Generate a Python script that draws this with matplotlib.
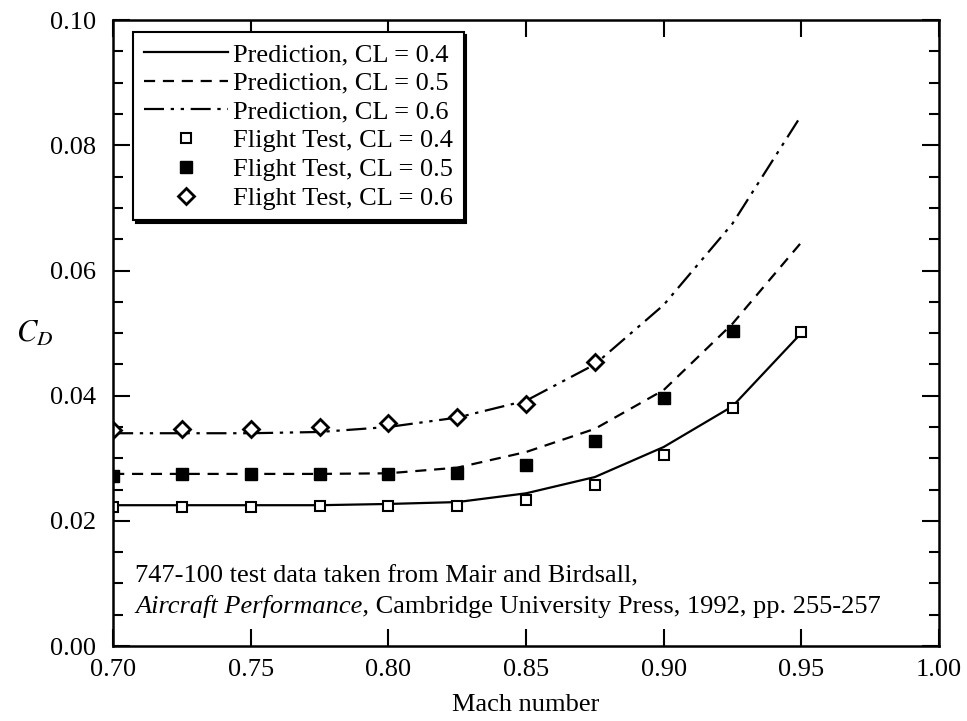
import matplotlib.pyplot as plt
import numpy as np
from matplotlib.ticker import MultipleLocator

plt.rcParams['font.family'] = ['Liberation Serif', 'DejaVu Serif']
plt.rcParams['mathtext.fontset'] = 'stix'

# Mach-Zahlen
mach = [0.70, 0.725, 0.75, 0.775, 0.80, 0.825, 0.85, 0.875, 0.90, 0.925, 0.95]

# Vorhersage (Linien)
pred_04 = [0.0225, 0.0225, 0.0225, 0.0225, 0.0227, 0.0230, 0.0244, 0.0270, 0.0318, 0.0383, 0.0500]
pred_05 = [0.0275, 0.0275, 0.0275, 0.0275, 0.0276, 0.0285, 0.0310, 0.0347, 0.0409, 0.0515, 0.0645]
pred_06 = [0.0340, 0.0340, 0.0340, 0.0342, 0.0350, 0.0365, 0.0392, 0.0450, 0.0545, 0.0675, 0.0848]

# Flugtest (Punkte)
test_04 = [0.0222, 0.0222, 0.0222, 0.0223, 0.0224, 0.0224, 0.0234, 0.0257, 0.0306, 0.0380, 0.0501]
test_05 = [0.0272, 0.0275, 0.0275, 0.0275, 0.0275, 0.0277, 0.0290, 0.0327, 0.0397, 0.0503]
test_06 = [0.0345, 0.0347, 0.0347, 0.0350, 0.0357, 0.0366, 0.0386, 0.0454]

fig, ax = plt.subplots(figsize=(9.67, 7.21), dpi=100)
fig.subplots_adjust(left=0.117, right=0.971, top=0.972, bottom=0.104)

ax.plot(mach, pred_04, 'k-', lw=1.6, label='Prediction, CL = 0.4')
ax.plot(mach, pred_05, 'k--', lw=1.6, dashes=(5, 3.5), label='Prediction, CL = 0.5')
ax.plot(mach, pred_06, 'k', lw=1.6, dashes=(9, 3, 1.5, 3, 1.5, 3), label='Prediction, CL = 0.6')

ax.plot(mach[:len(test_04)], test_04, 's', ms=7, mfc='white', mec='k', mew=1.5,
        label='Flight Test, CL = 0.4')
ax.plot(mach[:len(test_05)], test_05, 's', ms=9, mfc='k', mec='k',
        label='Flight Test, CL = 0.5')
ax.plot(mach[:len(test_06)], test_06, 'D', ms=8, mfc='white', mec='k', mew=2,
        label='Flight Test, CL = 0.6')

ax.set_xlim(0.70, 1.00)
ax.set_ylim(0.0, 0.10)
ax.set_xticks(np.arange(0.70, 1.001, 0.05))
ax.set_yticks(np.arange(0.0, 0.1001, 0.02))
ax.yaxis.set_minor_locator(MultipleLocator(0.005))
ax.set_xticklabels(['%.2f' % v for v in np.arange(0.70, 1.001, 0.05)])
ax.set_yticklabels(['%.2f' % v for v in np.arange(0.0, 0.1001, 0.02)])
ax.tick_params(which='both', direction='in', top=True, right=True, labelsize=19, width=1.5)
ax.tick_params(axis='x', which='major', length=12, pad=9)
ax.tick_params(axis='y', which='major', length=12, pad=12)
ax.tick_params(axis='y', which='minor', length=7)
for s in ax.spines.values():
    s.set_linewidth(1.8)

ax.set_xlabel('Mach number', fontsize=19, labelpad=10)
ax.set_ylabel(r'$C_D$', fontsize=22, rotation=0)
ax.yaxis.set_label_coords(-0.095, 0.475)

leg = ax.legend(loc='upper left', bbox_to_anchor=(0.024, 0.981), borderaxespad=0,
                fontsize=19, handlelength=3.2, handletextpad=0.2, labelspacing=0.2,
                borderpad=0.4, fancybox=False, shadow={'color': 'k', 'alpha': 1},
                framealpha=1, edgecolor='k')
leg.get_frame().set_linewidth(1.5)

ax.text(0.708, 0.0101, '747-100 test data taken from Mair and Birdsall,', fontsize=19)
t2 = ax.text(0.708, 0.0052, 'Aircraft Performance,', fontsize=19, style='italic')
ax.annotate(' Cambridge University Press, 1992, pp. 255-257', xy=(1, 0), xycoords=t2,
            va='bottom', fontsize=19)

plt.savefig('out.png')
